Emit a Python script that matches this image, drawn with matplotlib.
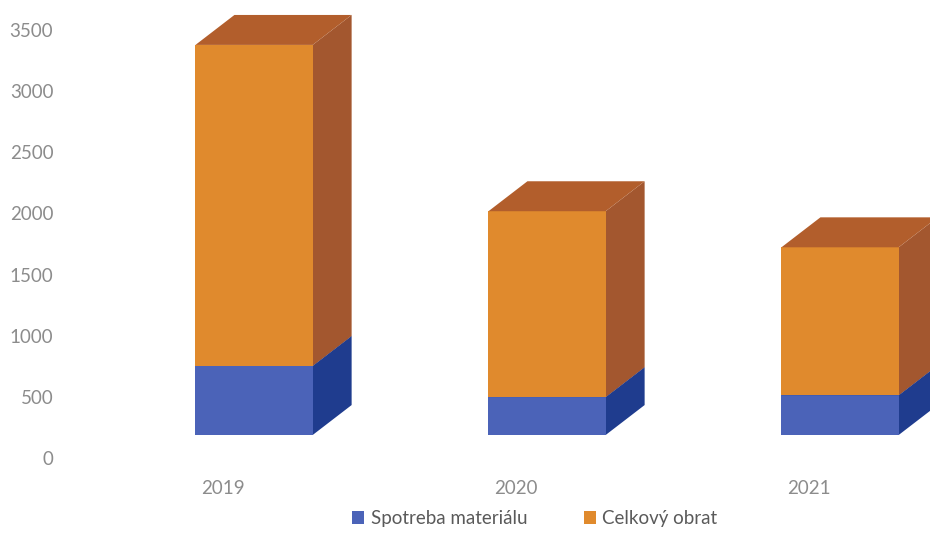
import matplotlib

matplotlib.use("Agg")
import matplotlib.pyplot as plt
from matplotlib.patches import Polygon, Patch

# data (segment heights)
years = ["2019", "2020", "2021"]
spotreba = [565, 310, 325]
obrat = [2625, 1520, 1210]
series_names = ["Spotreba materiálu", "Celkový obrat"]
yticks = [0, 500, 1000, 1500, 2000, 2500, 3000, 3500]

# colours: front, side, top
COLORS = {
    "blue": ("#4B63B8", "#1F3C8E", "#2C4A9E"),
    "orange": ("#E08A2D", "#A3572F", "#B25E2C"),
}
TEXT = "#8c8c8c"

# pseudo-3D geometry (category units / data units)
BAR_W = 0.40
SHIFT_X = 0.12     # bar front face sits a bit back from the floor front
BASE = 188         # floor offset of front face
DEPTH_X = 0.133
DEPTH_Y = 245

plt.rcParams["font.family"] = ["Lato", "DejaVu Sans"]

fig = plt.figure(figsize=(9.3, 5.53), dpi=100)
ax = fig.add_axes([70 / 930, 83 / 553, 860 / 930, 470 / 553])

px_per_unit = 428 / 3500
ax.set_ylim(-(470 - 458) / px_per_unit, 458 / px_per_unit)
ax.set_xlim((70 - 223) / 293, (930 - 223) / 293)


def draw_box(x0, x1, b, t, cols):
    front, side, top = cols
    ax.add_patch(Polygon([(x1, b), (x1 + DEPTH_X, b + DEPTH_Y),
                          (x1 + DEPTH_X, t + DEPTH_Y), (x1, t)],
                         closed=True, facecolor=side, edgecolor="none"))
    ax.add_patch(Polygon([(x0, b), (x1, b), (x1, t), (x0, t)],
                         closed=True, facecolor=front, edgecolor="none"))
    ax.add_patch(Polygon([(x0, t), (x1, t), (x1 + DEPTH_X, t + DEPTH_Y),
                          (x0 + DEPTH_X, t + DEPTH_Y)],
                         closed=True, facecolor=top, edgecolor="none"))


for i, (s, o) in enumerate(zip(spotreba, obrat)):
    x0 = i + SHIFT_X - 0.014 - BAR_W / 2
    x1 = x0 + BAR_W
    draw_box(x0, x1, BASE, BASE + s, COLORS["blue"])
    draw_box(x0, x1, BASE + s, BASE + s + o, COLORS["orange"])

ax.set_yticks(yticks)
ax.set_yticklabels([str(v) for v in yticks])
ax.set_xticks(range(len(years)))
ax.set_xticklabels(years)
ax.tick_params(axis="y", length=0, pad=12, labelsize=13.5, colors=TEXT)
ax.tick_params(axis="x", length=0, pad=7, labelsize=13.5, colors=TEXT)
for sp in ax.spines.values():
    sp.set_visible(False)
ax.patch.set_alpha(0)

handles = [Patch(facecolor=COLORS["blue"][0], label=series_names[0]),
           Patch(facecolor=COLORS["orange"][0], label=series_names[1])]
fig.legend(handles=handles, loc="center", bbox_to_anchor=(0.575, 0.062),
           ncol=2, frameon=False, fontsize=13.5, labelcolor="#5a5a5a",
           handlelength=0.65, handleheight=0.65, handletextpad=0.35,
           columnspacing=3.0)

fig.savefig("out.png", dpi=100, facecolor="white")
